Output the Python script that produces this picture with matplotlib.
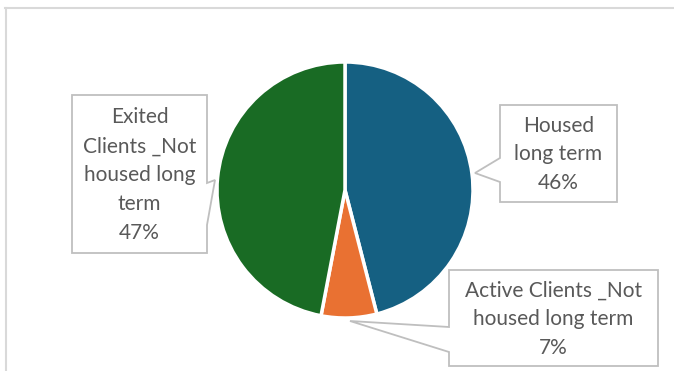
import matplotlib.pyplot as plt
from matplotlib.patches import Polygon

# Data
labels = ["Housed\nlong term", "Active Clients _Not\nhoused long term", "Exited\nClients _Not\nhoused long\nterm"]
values = [46, 7, 47]
colors = ["#156082", "#E97132", "#196B24"]

W, H = 674, 371

fig = plt.figure(figsize=(W / 100, H / 100), dpi=100)
ax = fig.add_axes([0, 0, 1, 1])

# Pie (pixel coordinates, y up)
ax.pie(values, colors=colors, startangle=90, counterclock=False,
       center=(345, H - 190), radius=128, frame=True,
       wedgeprops=dict(edgecolor="white", linewidth=2.5))

ax.set_xlim(0, W)
ax.set_ylim(0, H)
ax.set_aspect("equal")
ax.axis("off")


def callout(box, side, attach, tip):
    # box in image coords (x0, y0, x1, y1), wedge on one side
    x0, y0, x1, y1 = box
    a, b = attach
    if side == "left":
        pts = [(x0, y0), (x1, y0), (x1, y1), (x0, y1), (x0, b), tip, (x0, a)]
    else:
        pts = [(x0, y0), (x1, y0), (x1, a), tip, (x1, b), (x1, y1), (x0, y1)]
    pts = [(x, H - y) for x, y in pts]
    ax.add_patch(Polygon(pts, closed=True, facecolor="white",
                         edgecolor="#bfbfbf", linewidth=1.3, zorder=3))


# Callout boxes (layout)
boxes = [(500, 105, 617, 202), (449, 270, 658, 366), (72, 95, 207, 253)]
sides = ["left", "left", "right"]
attaches = [(158, 182), (327, 352), (183, 225)]
tips = [(475, 173), (350, 321), (215, 180)]

for i in range(len(values)):
    callout(boxes[i], sides[i], attaches[i], tips[i])
    x0, y0, x1, y1 = boxes[i]
    ax.text((x0 + x1) / 2, H - (y0 + y1) / 2 - 1, f"{labels[i]}\n{values[i]}%",
            ha="center", va="center", fontsize=15, color="#595959",
            family="Lato", linespacing=1.55, zorder=4)

# Chart frame (top and left edges visible)
ax.plot([5, W], [H - 8, H - 8], color="#d9d9d9", linewidth=1.5, clip_on=False)
ax.plot([6, 6], [H - 8, 0], color="#d9d9d9", linewidth=1.5, clip_on=False)

fig.savefig("out.png", dpi=100)
